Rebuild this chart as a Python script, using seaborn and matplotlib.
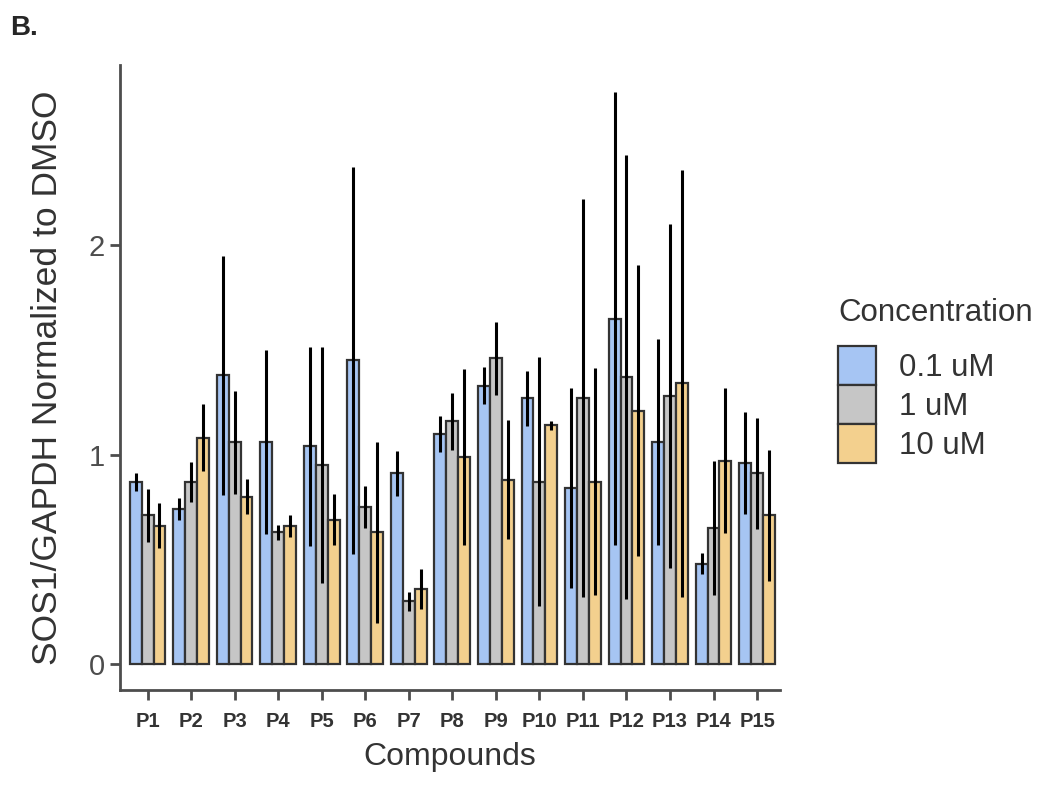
import pandas as pd
import numpy as np
import matplotlib
matplotlib.use("Agg")
import matplotlib.pyplot as plt
import seaborn as sns

# valores
compounds = ["P1", "P2", "P3", "P4", "P5", "P6", "P7", "P8",
             "P9", "P10", "P11", "P12", "P13", "P14", "P15"]
conc_levels = ["0.1 uM", "1 uM", "10 uM"]

mean_01 = [0.87, 0.74, 1.38, 1.06, 1.04, 1.45, 0.91, 1.10, 1.33, 1.27, 0.84, 1.65, 1.06, 0.48, 0.96]
mean_1 = [0.71, 0.87, 1.06, 0.63, 0.95, 0.75, 0.30, 1.16, 1.46, 0.87, 1.27, 1.37, 1.28, 0.65, 0.91]
mean_10 = [0.66, 1.08, 0.80, 0.66, 0.69, 0.63, 0.36, 0.99, 0.88, 1.14, 0.87, 1.21, 1.34, 0.97, 0.71]

sd_01 = [0.044, 0.053, 0.571, 0.439, 0.475, 0.926, 0.108, 0.086, 0.087, 0.131, 0.479, 1.081, 0.491, 0.048, 0.243]
sd_1 = [0.128, 0.096, 0.246, 0.036, 0.563, 0.098, 0.046, 0.136, 0.175, 0.595, 0.949, 1.061, 0.823, 0.321, 0.265]
sd_10 = [0.108, 0.160, 0.084, 0.053, 0.120, 0.432, 0.096, 0.420, 0.285, 0.023, 0.542, 0.694, 1.018, 0.346, 0.312]

cores = ["#A6C5F3", "#C6C6C6", "#F3D08E"]

df = pd.DataFrame({
    "Compounds": compounds * 3,
    "Concentration": [conc_levels[0]] * 15 + [conc_levels[1]] * 15 + [conc_levels[2]] * 15,
    "valor": mean_01 + mean_1 + mean_10,
})

sns.set_style("white")
plt.rcParams['font.family'] = ['Liberation Sans', 'DejaVu Sans']

fig = plt.figure(figsize=(10.5, 7.85), dpi=100)
ax = fig.add_axes([0.114, 0.121, 0.629, 0.796])

sns.barplot(data=df, x="Compounds", y="valor", hue="Concentration",
            hue_order=conc_levels, palette=cores, saturation=1, errorbar=None,
            width=0.82, edgecolor="#333333", linewidth=1.6, ax=ax)

# barras de erro (media +- sd)
for cont, sd in zip(ax.containers, [sd_01, sd_1, sd_10]):
    xs = [p.get_x() + p.get_width() / 2 for p in cont]
    ys = [p.get_height() for p in cont]
    ax.errorbar(xs, ys, yerr=sd, fmt="none", ecolor="black", elinewidth=2.2, capsize=0, zorder=5)

ax.set_ylim(-0.124, 2.86)
ax.set_xlim(-0.64, 14.53)
ax.set_yticks([0, 1, 2])
ax.set_yticklabels(["0", "1", "2"], fontsize=21, color="#4d4d4d")
for lab in ax.get_xticklabels():
    lab.set_fontweight("bold")
    lab.set_fontsize(14.5)
    lab.set_color("#333333")

ax.set_xlabel("Compounds", fontsize=23, color="#333333", labelpad=8)
ax.set_ylabel("SOS1/GAPDH Normalized to DMSO", fontsize=25.5, color="#333333", labelpad=18)

sns.despine(ax=ax)
for s in ["left", "bottom"]:
    ax.spines[s].set_color("#4d4d4d")
    ax.spines[s].set_linewidth(2)
ax.tick_params(axis="both", direction="out", length=7, width=2, color="#4d4d4d", bottom=True, left=True)
ax.tick_params(axis="x", pad=9)

sns.move_legend(ax, loc="center left", bbox_to_anchor=(1.088, 0.495), frameon=False,
                title="Concentration", fontsize=22.5, title_fontsize=22.5,
                handlelength=1.2, handleheight=1.55, labelspacing=0.0, handletextpad=0.75,
                borderaxespad=0, borderpad=0, alignment="left")
leg = ax.get_legend()
leg._legend_box.sep = 13
for h in leg.get_patches():
    h.set_edgecolor("#333333")
    h.set_linewidth(1.6)
for t in leg.get_texts():
    t.set_color("#333333")
leg.get_title().set_color("#333333")

fig.text(0.01, 0.955, "B.", fontsize=20, fontweight="bold")

fig.savefig("out.png", dpi=100)
